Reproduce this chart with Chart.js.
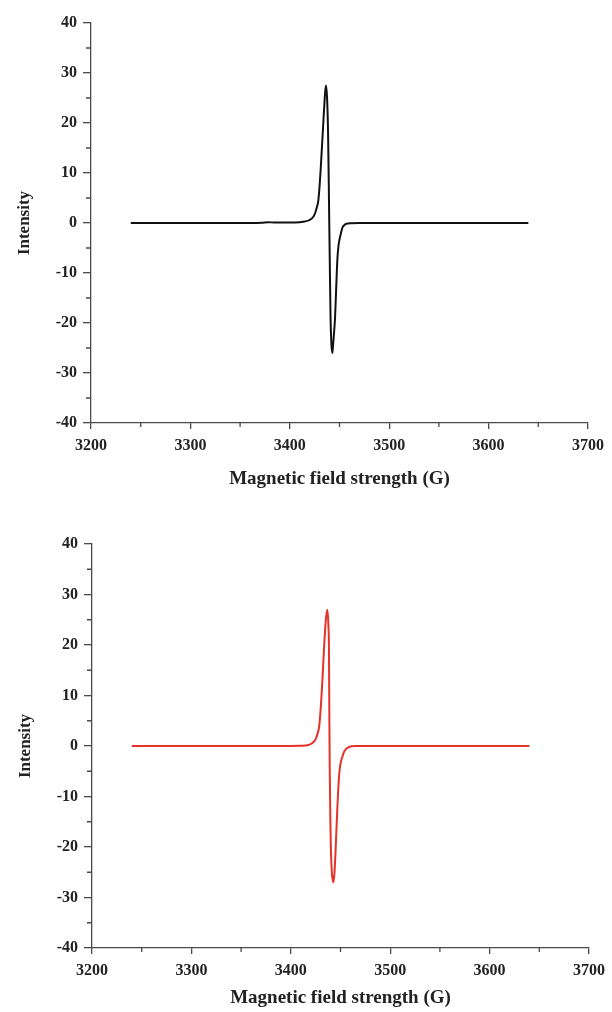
<!DOCTYPE html>
<html>
<head>
<meta charset="utf-8">
<script src="https://cdn.jsdelivr.net/npm/chart.js@4/dist/chart.umd.min.js"></script>
<style>
  body { margin: 0; background: #fff; }
  canvas { display: block; }
</style>
</head>
<body>
<canvas id="topChart" width="612" height="506"></canvas>
<canvas id="bottomChart" width="612" height="506"></canvas>
<script>
// Top spectrum (black)
const fieldTop = [3240, 3300, 3360, 3372, 3378, 3384, 3390, 3405, 3415, 3420, 3423.5, 3425.5, 3427, 3428.7,
  3430, 3431, 3432, 3433, 3434.4, 3435.5, 3436.4, 3437.5, 3438.5, 3439.2, 3439.7, 3440.3, 3441, 3441.8, 3442.7,
  3443.5, 3444.5, 3445.5, 3446.5, 3447.8, 3449, 3450, 3451.5, 3453, 3455, 3457, 3462, 3470, 3500, 3560, 3640];
const intensityTop = [0, 0, 0, 0.05, 0.15, 0.1, 0.1, 0.1, 0.3, 0.6, 1.2, 2.0, 3.0, 4.5,
  7.5, 10.5, 14, 17.5, 22.5, 26, 27.5, 25, 18, 8, 0, -9, -19, -24, -26,
  -24.5, -22, -19, -14, -7.5, -4.5, -3.3, -2, -0.9, -0.4, -0.15, -0.05, 0, 0, 0, 0];

// Bottom spectrum (red)
const fieldBottom = [3240, 3300, 3380, 3410, 3417.8, 3421, 3423.5, 3425.1, 3427, 3428.5, 3430.2, 3431.8,
  3433.5, 3435.2, 3436.8, 3437.8, 3438.4, 3438.8, 3439.2, 3439.8, 3440.4, 3441.5, 3442.8, 3444, 3445.2,
  3446.9, 3448.5, 3450, 3451.8, 3454, 3458.5, 3465, 3500, 3580, 3640];
const intensityBottom = [0, 0, 0, 0.05, 0.2, 0.5, 0.9, 1.4, 2.5, 3.8, 7.7, 13,
  19.6, 24.9, 27, 24, 19, 5, -5, -15, -21, -25.5, -27, -25, -20,
  -12, -6.1, -3.5, -2.2, -1, -0.2, 0, 0, 0, 0];

// minor tick positions
const xMinor = [3250, 3350, 3450, 3550, 3650];
const yMinor = [-35, -25, -15, -5, 5, 15, 25, 35];

const serif = '"Liberation Serif", "Times New Roman", serif';
const axisColor = '#4a4a4a';

const minorTicks = {
  id: 'minorTicks',
  afterDraw(chart) {
    const { ctx, scales: { x, y } } = chart;
    ctx.save();
    ctx.strokeStyle = axisColor;
    ctx.lineWidth = 1.3;
    ctx.beginPath();
    xMinor.forEach(v => {
      const px = x.getPixelForValue(v);
      ctx.moveTo(px, x.top);
      ctx.lineTo(px, x.top + 4);
    });
    yMinor.forEach(v => {
      const py = y.getPixelForValue(v);
      ctx.moveTo(y.right - 5, py);
      ctx.lineTo(y.right, py);
    });
    ctx.stroke();
    ctx.restore();
  }
};

function makeChart(id, xs, ys, color, pad, xAxisHeight, titleBottomPad) {
  const points = xs.map((v, i) => ({ x: v, y: ys[i] }));
  return new Chart(document.getElementById(id), {
    type: 'line',
    data: {
      datasets: [{
        data: points,
        borderColor: color,
        borderWidth: 2,
        pointRadius: 0,
        cubicInterpolationMode: 'monotone',
        fill: false
      }]
    },
    options: {
      responsive: false,
      animation: false,
      layout: { padding: pad },
      plugins: { legend: { display: false }, tooltip: { enabled: false } },
      scales: {
        x: {
          type: 'linear',
          min: 3200,
          max: 3700,
          afterFit: axis => { axis.height = xAxisHeight; },
          grid: { drawOnChartArea: false, tickLength: 6, color: axisColor, lineWidth: 1.3 },
          border: { color: axisColor, width: 1.3 },
          ticks: {
            stepSize: 100,
            padding: 7,
            color: '#222',
            maxRotation: 0,
            callback: v => String(v),
            font: { family: serif, size: 16, weight: 'bold' }
          },
          title: {
            display: true,
            text: 'Magnetic field strength (G)',
            color: '#222',
            padding: { top: 0, bottom: titleBottomPad },
            font: { family: serif, size: 19, weight: 'bold' }
          }
        },
        y: {
          min: -40,
          max: 40,
          afterFit: axis => { axis.width = 83; },
          grid: { drawOnChartArea: false, tickLength: 8, color: axisColor, lineWidth: 1.3 },
          border: { color: axisColor, width: 1.3 },
          ticks: {
            stepSize: 10,
            padding: 6,
            color: '#222',
            callback: v => String(v),
            font: { family: serif, size: 16, weight: 'bold' }
          },
          title: {
            display: true,
            text: 'Intensity',
            color: '#222',
            padding: { top: 6, bottom: 0 },
            font: { family: serif, size: 17, weight: 'bold' }
          }
        }
      }
    },
    plugins: [minorTicks]
  });
}

makeChart('topChart', fieldTop, intensityTop, '#111111',
  { left: 8, top: 23, right: 24, bottom: 10 }, 73, 6);
makeChart('bottomChart', fieldBottom, intensityBottom, '#e5322b',
  { left: 9, top: 38, right: 21, bottom: 0 }, 64, 3);
</script>
</body>
</html>
